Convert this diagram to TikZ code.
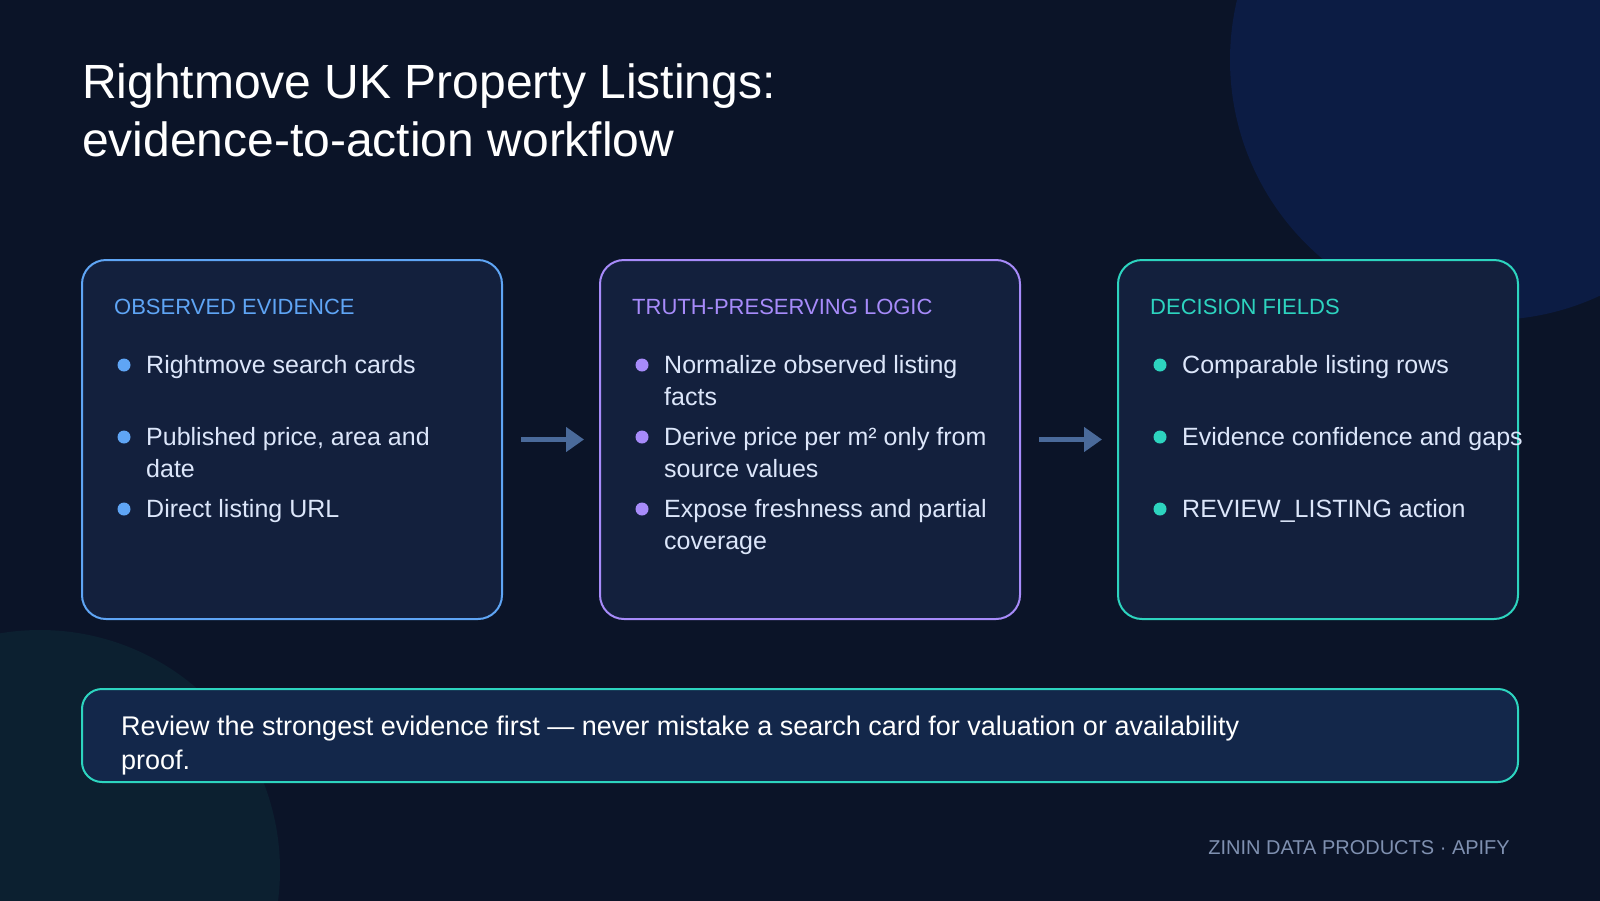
\documentclass[tikz,border=0pt]{standalone}
\usepackage{fontspec}
\setmainfont{Liberation Sans}
\usetikzlibrary{arrows.meta}
\definecolor{bg}{HTML}{0B1428}
\definecolor{blobA}{HTML}{0C1C44}
\definecolor{blobB}{HTML}{0C2030}
\definecolor{cardfill}{HTML}{13203D}
\definecolor{bannerfill}{HTML}{13274A}
\definecolor{cblue}{HTML}{5FA5F5}
\definecolor{cpurple}{HTML}{A78BFA}
\definecolor{cteal}{HTML}{2DD4BF}
\definecolor{itemtext}{HTML}{DCE6FA}
\definecolor{arrowc}{HTML}{4A6A9A}
\definecolor{footc}{HTML}{7F90B0}
\begin{document}
\begin{tikzpicture}[x=1pt,y=-1pt,
  card/.style={draw, line width=2pt, fill=cardfill, rounded corners=24pt, minimum height=359pt, inner sep=0pt},
  headt/.style={anchor=base west, inner sep=0pt, font=\fontsize{22}{26}\selectfont},
  itemt/.style={anchor=base west, inner sep=0pt, align=left, text=itemtext, font=\fontsize{25}{32}\selectfont},
  dotb/.style={circle, inner sep=0pt, minimum size=13pt, draw=none},
  arr/.style={draw=arrowc, line width=5pt, -{Triangle[length=18pt,width=24pt]}},
]
\useasboundingbox (0,0) rectangle (1600,900);
\fill[bg] (-10,-10) rectangle (1610,910);
\begin{scope}
\clip (-10,-10) rectangle (1610,910);
\fill[blobA] (1490,60) circle[radius=260pt];
\fill[blobB] (40,870) circle[radius=240pt];
\end{scope}

% title (base anchor = baseline of last line)
\node[anchor=base west, inner sep=0pt, align=left, text=white, font=\fontsize{48}{58}\selectfont] (title) at (82,156)
  {Rightmove UK Property Listings:\\evidence-to-action workflow};

% cards
\node[card, draw=cblue, minimum width=420pt] (obs) at (292,439.5) {};
\node[card, draw=cpurple, minimum width=420pt] (logic) at (810,439.5) {};
\node[card, draw=cteal, minimum width=400pt] (dec) at (1318,439.5) {};

% card 1
\node[headt, text=cblue] (obsh) at (114,314) {OBSERVED EVIDENCE};
\node[dotb, fill=cblue] (obsd1) at (124,365) {};
\node[itemt] (obs1) at (146,373) {Rightmove search cards};
\node[dotb, fill=cblue] (obsd2) at (124,437) {};
\node[itemt] (obs2) at (146,477) {Published price, area and\\date};
\node[dotb, fill=cblue] (obsd3) at (124,509) {};
\node[itemt] (obs3) at (146,517) {Direct listing URL};

% card 2
\node[headt, text=cpurple] (logich) at (632,314) {TRUTH-PRESERVING LOGIC};
\node[dotb, fill=cpurple] (logicd1) at (642,365) {};
\node[itemt] (logic1) at (664,405) {Normalize observed listing\\facts};
\node[dotb, fill=cpurple] (logicd2) at (642,437) {};
\node[itemt] (logic2) at (664,477) {Derive price per m² only from\\source values};
\node[dotb, fill=cpurple] (logicd3) at (642,509) {};
\node[itemt] (logic3) at (664,549) {Expose freshness and partial\\coverage};

% card 3
\node[headt, text=cteal] (dech) at (1150,314) {DECISION FIELDS};
\node[dotb, fill=cteal] (decd1) at (1160,365) {};
\node[itemt] (dec1) at (1182,373) {Comparable listing rows};
\node[dotb, fill=cteal] (decd2) at (1160,437) {};
\node[itemt] (dec2) at (1182,445) {Evidence confidence and gaps};
\node[dotb, fill=cteal] (decd3) at (1160,509) {};
\node[itemt] (dec3) at (1182,517) {REVIEW\_LISTING action};

% arrows
\draw[arr] ([xshift=18pt]obs.east) -- ([xshift=-15pt]logic.west);
\draw[arr] ([xshift=18pt]logic.east) -- ([xshift=-15pt]dec.west);

% banner
\node[draw=cteal, line width=2pt, fill=bannerfill, rounded corners=20pt, minimum width=1436pt, minimum height=93pt, inner sep=0pt] (note) at (800,735.5) {};
\node[anchor=base west, inner sep=0pt, align=left, text=white, font=\fontsize{27}{34}\selectfont] (notet) at (121,769)
  {Review the strongest evidence first — never mistake a search card for valuation or availability\\proof.};

% footer
\node[anchor=base east, inner sep=0pt, text=footc, font=\fontsize{20}{24}\selectfont] (foot) at (1510,854) {ZININ DATA PRODUCTS · APIFY};
\end{tikzpicture}
\end{document}
